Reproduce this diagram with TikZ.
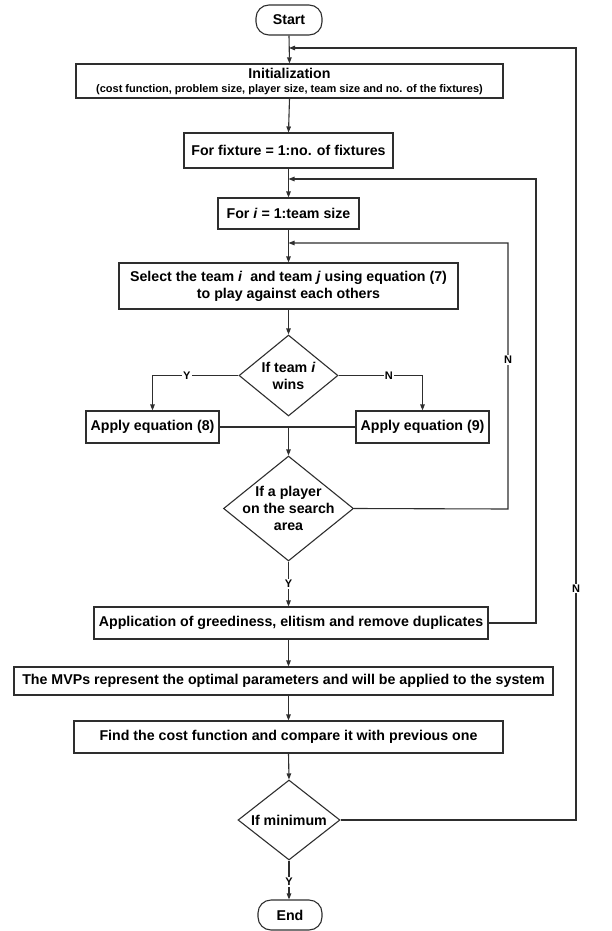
\documentclass[tikz,border=0pt]{standalone}
\usepackage{fontspec}
\setmainfont{Liberation Sans}
\usetikzlibrary{shapes.geometric,arrows.meta,calc}
\begin{document}
\begin{tikzpicture}[x=1pt,y=-1pt,
  line/.style={draw=black!82,line width=1.1pt},
  arr/.style={line,-{Triangle[length=6pt,width=4.5pt]}},
  txt/.style={font=\fontsize{14.2}{17}\selectfont\bfseries,align=center,text=black},
  box/.style={line,txt,rectangle,inner sep=0pt},
  term/.style={box,rounded corners=13pt},
  dia/.style={line,diamond,inner sep=0pt},
  lab/.style={font=\fontsize{11}{12}\selectfont\bfseries,fill=white,inner sep=1pt,text=black}]
\useasboundingbox (0,0) rectangle (611,931);
\node[term,minimum width=66pt,minimum height=30pt] (start) at (289,20) {Start};
\node[box,minimum width=427pt,minimum height=34pt] (init) at (289.5,81)
  {Initialization\\[-3pt]{\fontsize{11}{13}\selectfont(cost function, problem size, player size, team size and no. of the fixtures)}};
\node[box,minimum width=209pt,minimum height=35pt] (fix) at (288.5,150.5) {For fixture = 1:no. of fixtures};
\node[box,minimum width=141pt,minimum height=31pt] (fori) at (288.5,213.5) {For \textit{i} = 1:team size};
\node[box,minimum width=339pt,minimum height=46pt] (sel) at (288.5,286)
  {Select the team \textit{i}\ \ and team \textit{j} using equation (7)\\to play against each others};
\node[dia,minimum width=99pt,minimum height=81pt,
  label={[txt]center:{If team \textit{i}\\wins}}] (d1) at (288.5,375.5) {};
\node[box,minimum width=133pt,minimum height=32pt] (app8) at (152.5,427) {Apply equation (8)};
\node[box,minimum width=133pt,minimum height=32pt] (app9) at (422.5,427) {Apply equation (9)};
\node[dia,minimum width=130pt,minimum height=105pt,
  label={[txt]center:{If a player\\on the search\\area}}] (d2) at (288.5,508.5) {};
\node[box,minimum width=394pt,minimum height=32pt] (app) at (291,623) {Application of greediness, elitism and remove duplicates};
\node[box,minimum width=539pt,minimum height=28pt] (mvp) at (283.5,681) {The MVPs represent the optimal parameters and will be applied to the system};
\node[box,minimum width=429pt,minimum height=32pt] (find) at (288.5,737) {Find the cost function and compare it with previous one};
\node[dia,minimum width=102pt,minimum height=80pt,
  label={[txt]center:{If minimum}}] (d3) at (289,820) {};
\node[term,minimum width=64pt,minimum height=30pt] (end) at (290,915) {End};
% return entry points and bends
\coordinate (r1) at (289,48);
\coordinate (r2) at (288.5,179);
\coordinate (r3) at (288.5,243);
\coordinate (c1) at (576,820);
\coordinate (c2) at (576,48);
\coordinate (c3) at (536,623);
\coordinate (c4) at (536,179);
\coordinate (c5) at (508,509);
\coordinate (c6) at (508,243);
\coordinate (m) at (288.5,427);
% main flow
\draw[arr] (start.south) -- (init.north);
\draw[arr] (init.south) -- (fix.north);
\draw[arr] (fix.south) -- (fori.north);
\draw[arr] (fori.south) -- (sel.north);
\draw[arr] (sel.south) -- (d1.north);
\draw[arr] (d1.west) -| node[lab,pos=0.3]{Y} (app8.north);
\draw[arr] (d1.east) -| node[lab,pos=0.3]{N} (app9.north);
\draw[line] (app8.east) -- (app9.west);
\draw[arr] (m) -- (d2.north);
\draw[arr] (d2.south) -- node[lab,pos=0.5]{Y} (d2.south |- app.north);
\draw[arr] (app.south -| m) -- (mvp.north -| m);
\draw[arr] (mvp.south -| m) -- (find.north);
\draw[arr] (find.south) -- (d3.north);
\draw[arr] (d3.south) -- node[lab,pos=0.55]{Y} (d3.south |- end.north);
% loops
\draw[arr] (d2.east) -- (c5) -- node[lab,pos=0.56]{N} (c6) -- (r3);
\draw[arr] (app.east) -- (c3) -- (c4) -- (r2);
\draw[arr] (d3.east) -- (c1) -- node[lab,pos=0.30]{N} (c2) -- (r1);
\end{tikzpicture}
\end{document}
